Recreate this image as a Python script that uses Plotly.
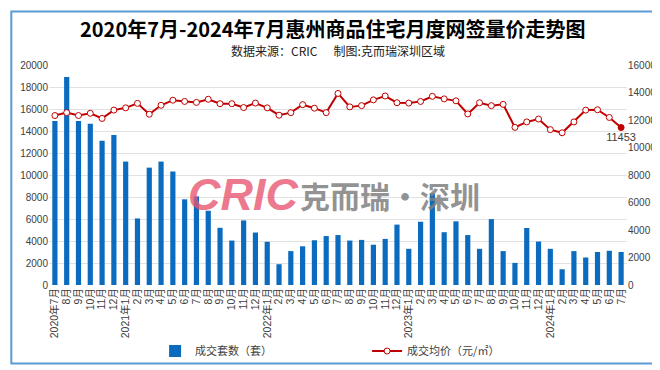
import plotly.graph_objects as go

# ---- data ----
month_labels = [
    "2020年7月", "8月", "9月", "10月", "11月", "12月",
    "2021年1月", "2月", "3月", "4月", "5月", "6月", "7月", "8月", "9月", "10月", "11月", "12月",
    "2022年1月", "2月", "3月", "4月", "5月", "6月", "7月", "8月", "9月", "10月", "11月", "12月",
    "2023年1月", "2月", "3月", "4月", "5月", "6月", "7月", "8月", "9月", "10月", "11月", "12月",
    "2024年1月", "2月", "3月", "4月", "5月", "6月", "7月",
]
units_sold = [
    14900, 18900, 14900, 14650, 13110, 13630,
    11220, 6050, 10670, 11220, 10320, 7790, 8055, 6750, 5200, 4040, 5870, 4770,
    3930, 1890, 3080, 3520, 4070, 4450, 4540, 4040, 4100, 3660, 4190, 5490,
    3290, 5750, 8320, 4800, 5790, 4540, 3290, 5990, 3080, 2010, 5180, 3950,
    3290, 1430, 3080, 2500, 3000, 3110, 3000,
]
avg_price = [
    12325, 12535, 12325, 12490, 12115, 12720,
    12885, 13210, 12420, 13070, 13440, 13350, 13280, 13510, 13185, 13185, 12905, 13230,
    12885, 12350, 12535, 13115, 12860, 12535, 13930, 12955, 13045, 13465, 13745, 13255,
    13230, 13350, 13720, 13535, 13395, 12440, 13255, 13045, 13140, 11465, 11860, 12070,
    11300, 11070, 11860, 12720, 12745, 12185, 11453,
]
bar_name = "成交套数（套）"
line_name = "成交均价（元/㎡）"
title_text = "2020年7月-2024年7月惠州商品住宅月度网签量价走势图"
subtitle_text = "数据来源：CRIC&nbsp;&nbsp;&nbsp;&nbsp;&nbsp;&nbsp;制图:克而瑞深圳区域"

# ---- style ----
BAR_C = "#0b6cbf"
LINE_C = "#c00000"
TXT = "#404040"
FONT = "Liberation Sans, Noto Sans CJK SC, sans-serif"
CJK = "Noto Sans CJK SC, sans-serif"

W, H = 660, 370
ML, MR, MT, MB = 39, 38, 57, 83
PW, PH = W - ML - MR, H - MT - MB

x = list(range(len(month_labels)))
n = len(month_labels)

fig = go.Figure()
fig.add_trace(go.Bar(
    x=x, y=units_sold, name=bar_name, marker_color=BAR_C,
    marker_line_width=0, yaxis="y",
))
marker_fill = ["white"] * (n - 1) + [LINE_C]
label_text = [""] * (n - 1) + [f"{avg_price[-1]}"]
fig.add_trace(go.Scatter(
    x=x, y=avg_price, name=line_name, yaxis="y2", mode="lines+markers+text",
    line=dict(color=LINE_C, width=2),
    marker=dict(size=6, color=marker_fill, line=dict(color=LINE_C, width=1)),
    text=label_text, textposition="bottom center", cliponaxis=False,
    textfont=dict(family=FONT, size=11, color=TXT),
))

def px_to_paper_x(px):
    return (px - ML) / PW

def px_to_paper_y(py):
    return (H - MB - py) / PH

annotations = [
    dict(text=f"<b>{title_text}</b>", x=px_to_paper_x(325), y=px_to_paper_y(19),
         xref="paper", yref="paper", showarrow=False, xanchor="center", yanchor="middle",
         font=dict(family=CJK, size=20, color="#000000")),
    dict(text=subtitle_text, x=px_to_paper_x(331), y=px_to_paper_y(42),
         xref="paper", yref="paper", showarrow=False, xanchor="center", yanchor="middle",
         font=dict(family=CJK, size=12, color="#222222")),
    # watermark
    dict(text="<b><i>CRIC</i></b>", x=px_to_paper_x(235), y=px_to_paper_y(192),
         xref="paper", yref="paper", showarrow=False, xanchor="center", yanchor="middle",
         font=dict(family="Liberation Sans, sans-serif", size=45, color="rgba(232,84,112,0.78)")),
    dict(text="<b>克而瑞·深圳</b>", x=px_to_paper_x(383), y=px_to_paper_y(193),
         xref="paper", yref="paper", showarrow=False, xanchor="center", yanchor="middle",
         font=dict(family=CJK, size=30, color="rgba(128,128,128,0.85)")),
]

fig.update_layout(
    width=W, height=H,
    margin=dict(l=ML, r=MR, t=MT, b=MB, pad=0),
    paper_bgcolor="white", plot_bgcolor="white",
    bargap=0.56,
    showlegend=True,
    legend=dict(orientation="h", x=px_to_paper_x(146), xanchor="left",
                y=px_to_paper_y(356), yanchor="middle",
                font=dict(family=CJK, size=11, color=TXT),
                entrywidth=167, entrywidthmode="pixels",
                bgcolor="rgba(0,0,0,0)"),
    xaxis=dict(range=[-0.5, n - 0.5], tickmode="array", tickvals=x, ticktext=month_labels,
               tickangle=-90, tickfont=dict(family=FONT, size=10.5, color=TXT),
               showgrid=False, showline=False, zeroline=False, ticks=""),
    yaxis=dict(range=[0, 20000], dtick=2000, tick0=0, tickformat="d",
               showgrid=True, gridcolor="#e2e2e2",
               gridwidth=1, zeroline=False, showline=False, ticks="",
               tickfont=dict(family=FONT, size=10, color=TXT)),
    yaxis2=dict(range=[0, 16000], dtick=2000, tick0=0, tickformat="d",
                overlaying="y", side="right",
                showgrid=False, zeroline=False, showline=False, ticks="",
                tickfont=dict(family=FONT, size=10, color=TXT)),
    annotations=annotations,
    shapes=[dict(type="rect", xref="paper", yref="paper",
                 x0=px_to_paper_x(1), x1=px_to_paper_x(W - 1),
                 y0=px_to_paper_y(H - 1), y1=px_to_paper_y(1),
                 line=dict(color="#5b9bd5", width=2), fillcolor="rgba(0,0,0,0)",
                 layer="above")],
)

fig.write_html("out.html")
